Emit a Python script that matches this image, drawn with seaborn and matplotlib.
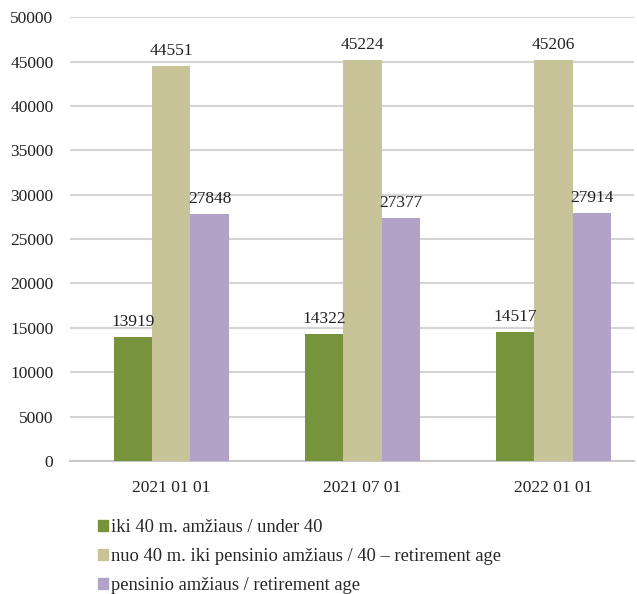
import pandas as pd
import numpy as np
import matplotlib.pyplot as plt
import seaborn as sns

dates = ['2021 01 01', '2021 07 01', '2022 01 01']
groups = ['iki 40 m. amžiaus / under 40',
          'nuo 40 m. iki pensinio amžiaus / 40 – retirement age',
          'pensinio amžiaus / retirement age']
under40 = [13919, 14322, 14517]
mid_age = [44551, 45224, 45206]
retired = [27848, 27377, 27914]
colors = ['#77933C', '#C9C39A', '#B3A2C7']

df = pd.DataFrame({
    'date': dates * 3,
    'group': [groups[0]] * 3 + [groups[1]] * 3 + [groups[2]] * 3,
    'value': under40 + mid_age + retired,
})

sns.set_style('white')
plt.rcParams['font.family'] = ['Liberation Serif', 'DejaVu Serif']

fig = plt.figure(figsize=(6.37, 5.94), dpi=100)
ax = fig.add_axes([0.11, 0.224, 0.885, 0.747])

sns.barplot(data=df, x='date', y='value', hue='group', hue_order=groups,
            palette=colors, saturation=1, width=0.6, ax=ax,
            edgecolor='none', zorder=3)

for cont in ax.containers:
    ax.bar_label(cont, padding=5, fontsize=12.5, color='#222222')

ax.set_ylim(0, 50000)
ax.set_xlim(-0.53, 2.42)
ax.set_yticks(np.arange(0, 50001, 5000))
ax.yaxis.grid(True, color='#d4d4d4', linewidth=1.5, zorder=0)
for s in ['top', 'right', 'left']:
    ax.spines[s].set_visible(False)
ax.spines['bottom'].set_color('#c8c8c8')
ax.spines['bottom'].set_linewidth(1.5)
ax.tick_params(axis='both', length=0, labelsize=12.5, colors='#222222')
ax.tick_params(axis='x', pad=14)
ax.tick_params(axis='y', pad=12)
ax.set_xlabel('')
ax.set_ylabel('')

ax.get_legend().remove()
handles = [plt.Rectangle((0, 0), 1, 1, color=c) for c in colors]
fig.legend(handles, groups, loc='upper left', bbox_to_anchor=(0.142, 0.138),
           frameon=False, fontsize=13.3, handlelength=0.55, handleheight=0.55,
           handletextpad=0.15, labelspacing=0.65, borderaxespad=0)

plt.savefig('out.png', dpi=100)
